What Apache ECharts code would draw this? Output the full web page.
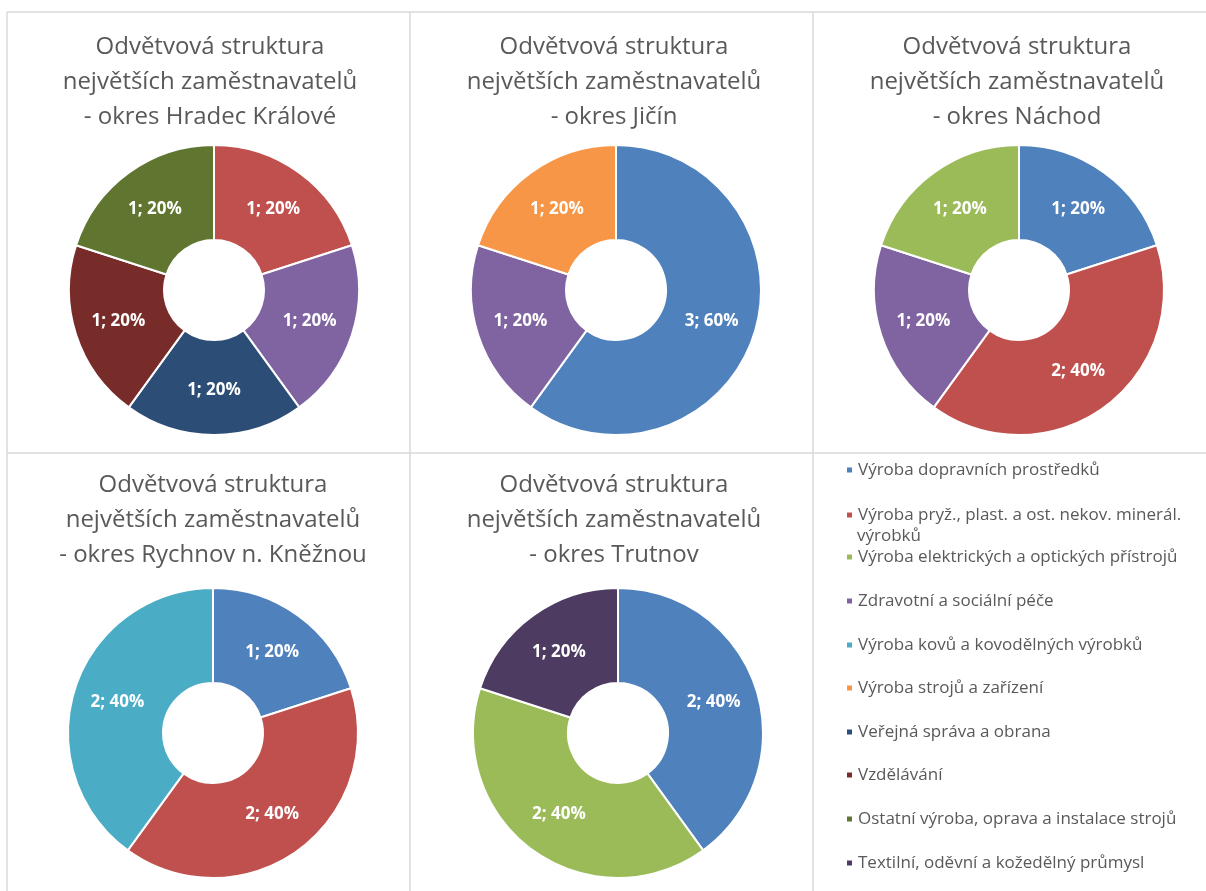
<!DOCTYPE html>
<html>
<head>
<meta charset="utf-8">
<script src="https://cdn.jsdelivr.net/npm/echarts@6/dist/echarts.min.js"></script>
<style>
html,body{margin:0;padding:0;background:#fff;}
#main{width:1206px;height:891px;}
</style>
</head>
<body>
<div id="main"></div>
<script>
// ---- data ----
const categories = [
  'Výroba dopravních prostředků',
  'Výroba pryž., plast. a ost. nekov. minerál. výrobků',
  'Výroba elektrických a optických přístrojů',
  'Zdravotní a sociální péče',
  'Výroba kovů a kovodělných výrobků',
  'Výroba strojů a zařízení',
  'Veřejná správa a obrana',
  'Vzdělávání',
  'Ostatní výroba, oprava a instalace strojů',
  'Textilní, oděvní a kožedělný průmysl'
];
const palette = ['#4F81BD','#C0504D','#9BBB59','#8064A2','#4BACC6','#F79646','#2C4D75','#772C2A','#5F7530','#4D3B62'];

const districtTitles = [
  'Odvětvová struktura\nnejvětších zaměstnavatelů\n- okres Hradec Králové',
  'Odvětvová struktura\nnejvětších zaměstnavatelů\n- okres Jičín',
  'Odvětvová struktura\nnejvětších zaměstnavatelů\n- okres Náchod',
  'Odvětvová struktura\nnejvětších zaměstnavatelů\n- okres Rychnov n. Kněžnou',
  'Odvětvová struktura\nnejvětších zaměstnavatelů\n- okres Trutnov'
];
// legend text as it wraps in the original (second line of item 2)
const legendFirstLine2 = 'Výroba pryž., plast. a ost. nekov. minerál.';
const legendSecondLine2 = 'výrobků';

// category indices and values per district
const hradecCats = [1, 3, 6, 7, 8];
const hradecValues = [1, 1, 1, 1, 1];
const jicinCats = [0, 3, 5];
const jicinValues = [3, 1, 1];
const nachodCats = [0, 1, 3, 2];
const nachodValues = [1, 2, 1, 1];
const rychnovCats = [0, 1, 4];
const rychnovValues = [1, 2, 2];
const trutnovCats = [0, 2, 9];
const trutnovValues = [2, 2, 1];

const districts = [
  [hradecCats, hradecValues],
  [jicinCats, jicinValues],
  [nachodCats, nachodValues],
  [rychnovCats, rychnovValues],
  [trutnovCats, trutnovValues]
];

// ---- layout ----
const pieCenters = [[214, 290], [616, 290], [1019, 290], [213, 733], [618, 733]];
const titleCenters = [[210, 30], [614, 30], [1017, 30], [213, 468], [614, 468]];
const legendTops = [470, 515, 557, 601, 645, 688, 732, 775, 819, 863];

const FONT = '"Open Sans", "Noto Sans", sans-serif';

const chart = echarts.init(document.getElementById('main'));

const series = districts.map((d, i) => ({
  type: 'pie',
  center: pieCenters[i],
  radius: [50, 145],
  startAngle: 90,
  clockwise: true,
  avoidLabelOverlap: false,
  animation: false,
  emphasis: { disabled: true },
  itemStyle: { borderColor: '#ffffff', borderWidth: 2 },
  label: {
    show: true,
    position: 'inside',
    formatter: '{c}; {d}%',
    color: '#ffffff',
    fontFamily: FONT,
    fontWeight: 'bold',
    fontSize: 17
  },
  labelLine: { show: false },
  data: d[0].map((ci, k) => ({
    name: categories[ci],
    value: d[1][k],
    itemStyle: { color: palette[ci] }
  }))
}));

const titles = districtTitles.map((t, i) => ({
  text: t,
  left: titleCenters[i][0],
  top: titleCenters[i][1],
  textAlign: 'center',
  padding: 0,
  textStyle: {
    fontFamily: FONT,
    fontWeight: 'normal',
    fontSize: 24,
    lineHeight: 35,
    color: '#595959'
  }
}));

const legends = categories.map((name, i) => ({
  data: [name],
  left: 845,
  top: legendTops[i] - 9,
  orient: 'vertical',
  padding: 0,
  itemWidth: 7,
  itemHeight: 7,
  icon: 'rect',
  selectedMode: false,
  formatter: i === 1 ? legendFirstLine2 : '{name}',
  textStyle: {
    fontFamily: FONT,
    fontSize: 17,
    lineHeight: 18,
    color: '#595959'
  }
}));

const lineStyle = { stroke: '#d9d9d9', lineWidth: 1.5 };
const graphics = [
  { type: 'line', shape: { x1: 7, y1: 12, x2: 1206, y2: 12 }, style: lineStyle, silent: true },
  { type: 'line', shape: { x1: 7, y1: 12, x2: 7, y2: 891 }, style: lineStyle, silent: true },
  { type: 'line', shape: { x1: 410, y1: 12, x2: 410, y2: 891 }, style: lineStyle, silent: true },
  { type: 'line', shape: { x1: 813, y1: 12, x2: 813, y2: 891 }, style: lineStyle, silent: true },
  { type: 'line', shape: { x1: 7, y1: 453, x2: 1206, y2: 453 }, style: lineStyle, silent: true },
  {
    type: 'text', left: 857, top: 528, silent: true,
    style: { text: legendSecondLine2, fontFamily: FONT, fontSize: 17, fill: '#595959' }
  }
];

chart.setOption({
  backgroundColor: '#ffffff',
  animation: false,
  title: titles,
  legend: legends,
  graphic: graphics,
  series: series
});
</script>
</body>
</html>
